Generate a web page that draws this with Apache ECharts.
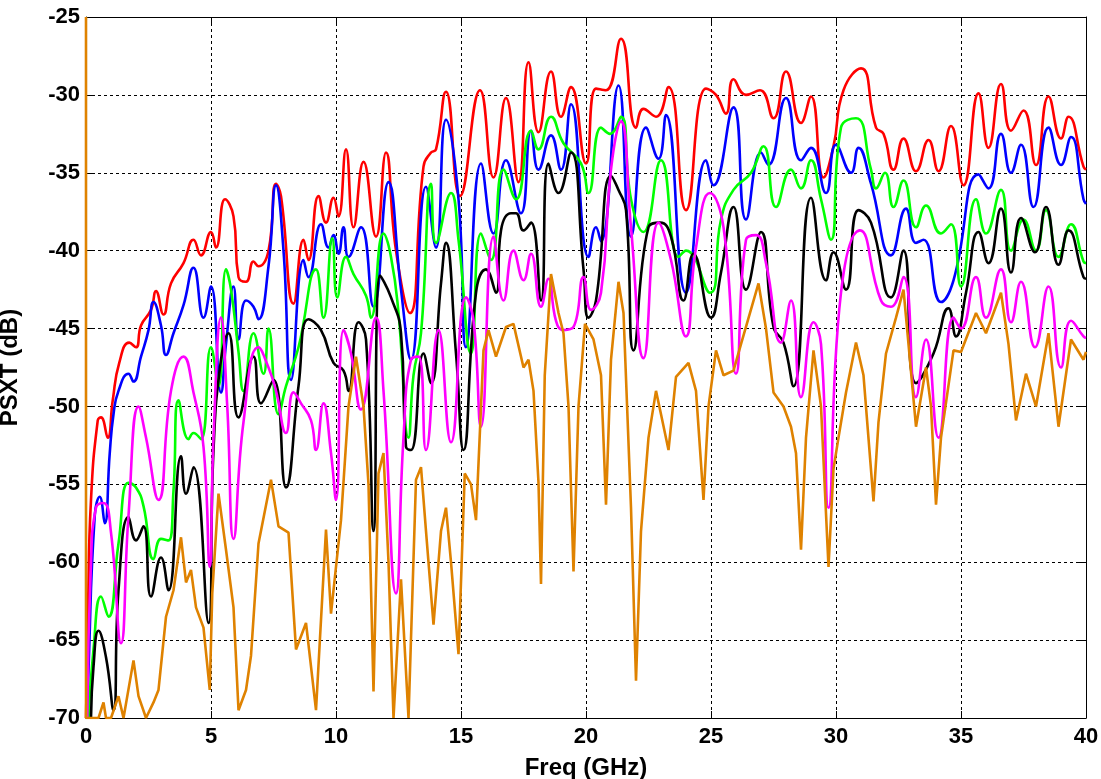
<!DOCTYPE html>
<html>
<head>
<meta charset="utf-8">
<script src="https://cdn.jsdelivr.net/npm/echarts@6/dist/echarts.min.js"></script>
<style>
html,body{margin:0;padding:0;background:#fff;}
#chart{width:1101px;height:779px;}
</style>
</head>
<body>
<div id="chart"></div>
<script>
// ---- Data (Freq in GHz, PSXT in dB) ----
const xTicks = [0, 5, 10, 15, 20, 25, 30, 35, 40];
const yTicks = [-70, -65, -60, -55, -50, -45, -40, -35, -30, -25];

const redF = [0,0.08,0.2,0.47,0.6,0.87,1.07,1.33,1.73,2.0,2.2,2.6,2.8,3.1,3.4,3.9,4.3,4.6,5.0,5.2,5.56,5.9,6.1,6.4,6.7,6.9,7.3,7.6,7.8,8.3,8.7,8.9,9.3,9.6,9.9,10.1,10.4,10.7,11.1,11.6,12.0,12.4,12.96,13.5,13.8,14.0,14.4,14.96,15.76,16.3,16.8,17.3,17.7,18.1,18.6,19.0,19.4,20.0,20.4,20.8,21.4,22.0,22.3,22.8,23.3,24.0,24.8,25.2,25.6,25.9,26.4,26.96,27.5,28.0,28.6,29.0,29.5,29.9,30.3,31.0,31.6,31.9,32.3,32.7,33.2,33.7,34.1,34.6,35.1,35.7,36.1,36.6,37.0,37.5,38.0,38.5,39.0,39.3,39.9,40];
const redV = [-70,-63,-56,-50.9,-50.7,-52,-49.6,-47.2,-45.9,-46.2,-44.8,-43.8,-42.6,-44.1,-42.1,-40.8,-39.3,-40.3,-38.8,-39.8,-36.7,-37.8,-41.7,-42.0,-40.7,-41,-40,-35.7,-36.5,-43.4,-39.3,-40.6,-36.5,-38.2,-36.6,-37.8,-33.5,-38.5,-34.3,-39.1,-33.7,-40,-44,-34.6,-33.7,-33.5,-29.8,-36.5,-29.7,-35.3,-30.2,-35.6,-27.9,-32.4,-28.5,-31.4,-29.5,-34.4,-29.6,-29.7,-26.4,-32.1,-30.9,-31.4,-29.5,-37.4,-29.6,-30,-31.2,-29,-30,-29.7,-31.5,-28.5,-31.8,-30.1,-35.3,-33.3,-29.7,-28.3,-32.1,-32.5,-34.8,-32.8,-34.9,-32.9,-34.9,-32,-35.8,-29.9,-33.4,-29.3,-32.3,-31,-34.5,-30.1,-32.8,-31.4,-34.6,-34.8];

const blueF = [0.05,0.1,0.35,0.55,0.75,0.95,1.1,1.3,1.7,1.9,2.2,2.5,2.7,3.0,3.2,3.5,3.9,4.3,4.7,5.0,5.4,5.6,5.9,6.1,6.4,6.7,6.9,7.3,7.6,7.9,8.2,8.7,8.9,9.4,9.7,9.9,10.1,10.3,10.5,11.0,11.5,12.1,12.6,13.0,13.6,14.0,14.4,14.9,15.2,15.8,16.3,16.8,17.4,17.8,18.1,18.6,19.0,19.4,20.1,20.4,20.6,21.3,21.8,22.4,22.9,23.2,24.0,24.8,25.1,25.9,26.4,27.0,27.3,28.0,28.6,29.0,29.6,30.0,30.6,30.9,31.4,32.2,32.8,33.2,33.5,34.2,34.7,35.7,36.1,36.6,37.0,37.4,37.9,38.5,39.0,39.4,39.9,40];
const blueV = [-70,-66.9,-57,-55.8,-57.5,-53,-50.5,-49,-47.9,-48.4,-46.8,-45.1,-43.3,-44.8,-46.7,-45.3,-43.5,-41.1,-44.3,-42.3,-49.1,-46,-42.3,-45.7,-43.2,-43.6,-44.4,-41,-35.8,-40,-48.3,-40.6,-41.7,-38.3,-39.8,-39,-40.2,-38.5,-40.4,-38.5,-43.6,-35.6,-42.5,-47,-35.9,-39.8,-31.6,-36.7,-46.2,-34.4,-38.9,-34.2,-37.6,-32.3,-34.8,-32.6,-34.8,-30.6,-40.4,-38.5,-39.4,-29.4,-39.1,-32.1,-34.1,-31.3,-42.7,-34.2,-35.8,-30.8,-38,-33.7,-34.5,-30.2,-34.2,-33.4,-36.3,-33.2,-35,-33.4,-35.7,-40.3,-37.3,-39.5,-39.3,-43.3,-41.9,-35.1,-36,-32.5,-35,-33.2,-37.2,-32.1,-34.5,-32.7,-36.7,-37];

const greenF = [0.1,0.3,0.6,0.9,1.3,1.7,2.0,2.3,2.7,3.0,3.3,3.5,3.7,4.1,4.3,4.6,5.0,5.3,5.6,5.8,6.1,6.3,6.7,7.1,7.3,7.7,8.0,8.5,9.2,9.5,9.85,10.05,10.4,10.7,11.2,11.4,11.9,12.2,12.5,12.9,13.1,13.4,13.8,14.0,14.6,14.9,15.4,15.8,16.2,16.7,17.2,17.8,18.1,18.6,19.1,19.8,20.1,20.6,20.96,21.4,21.8,22.3,23.0,23.7,24.0,24.96,25.4,25.9,26.6,27.1,27.6,28.2,28.6,29.0,29.4,29.8,30.2,30.8,31.4,31.6,31.96,32.3,32.7,33.2,33.6,34.2,34.6,35.0,35.6,36.0,36.6,37.0,37.5,38.0,38.4,38.9,39.4,39.9,40];
const greenV = [-70,-65.6,-62.2,-63.5,-58.8,-54.9,-55.2,-56.4,-59.8,-58.5,-58.6,-55.4,-49.6,-52.1,-51.7,-52.1,-46.2,-48.7,-41.2,-42.5,-46.5,-49,-45.3,-47.9,-45,-50.5,-48.7,-46.2,-41.2,-44.3,-39.2,-43,-40.4,-41.5,-42.9,-44.3,-38.9,-40.4,-44,-52,-48,-45.3,-35.7,-39.5,-36.3,-39.3,-46.6,-38.9,-40.6,-34.8,-36.7,-32.3,-33.5,-31.4,-33.1,-34.4,-36.3,-32.1,-32.5,-31.4,-36.7,-38.8,-34.2,-40.4,-40,-42.7,-38,-36.1,-35,-33.3,-37.2,-34.8,-36,-34.2,-36.7,-39.3,-32.1,-31.5,-34.8,-36,-35,-37.2,-35.5,-38.5,-37.1,-38.9,-38.3,-42.3,-36.7,-38.9,-36.1,-40,-38,-40,-37.4,-40.4,-38.3,-40.7,-40.8];

const blackF = [0.2,0.3,0.5,0.8,1.1,1.3,1.7,2.0,2.3,2.6,3.0,3.3,3.8,4.0,4.3,4.9,5.1,5.4,5.7,6.1,6.7,7.0,7.5,8.0,8.5,8.9,9.4,9.9,10.3,10.5,10.9,11.2,11.5,11.76,12.2,12.6,12.8,13.0,13.5,13.8,14.2,14.4,14.8,15.1,15.6,16.0,16.4,16.6,17.0,17.2,17.5,17.8,18.2,18.5,18.9,19.4,19.9,20.1,20.4,21.0,21.3,21.6,21.9,22.5,22.96,23.4,23.9,24.3,25.0,25.4,25.9,26.4,27.0,27.5,27.9,28.3,29.0,29.6,29.9,30.4,30.9,31.4,32.2,32.7,33.2,33.9,34.5,34.8,35.2,35.7,36.1,36.6,37.0,37.4,37.96,38.4,38.9,39.3,39.9,40];
const blackV = [-70,-66.7,-64.4,-66.1,-69.5,-61.8,-57.1,-58.6,-57.7,-62.2,-59.7,-61.8,-53.2,-55.6,-53.9,-63.9,-52.8,-47,-45.3,-50.7,-46.8,-49.8,-48.3,-55.2,-48.7,-44.4,-45.1,-47.2,-47.7,-49,-44.6,-45.7,-58,-41.6,-43,-45.3,-52.6,-52.8,-46.6,-48.5,-42.1,-39.5,-46.6,-52.8,-42.7,-41.2,-42.7,-38.7,-37.6,-37.6,-38.7,-38.2,-43.2,-34.4,-36.3,-33.7,-41.2,-44.3,-43.2,-35.2,-36.1,-37.4,-46.4,-38.5,-38.2,-39.1,-43.2,-40.2,-44.3,-41.4,-37.2,-42.5,-38.8,-44.9,-45.9,-48.7,-36.6,-41.9,-40.1,-42.5,-37.4,-38.2,-43,-40,-48.5,-46.6,-43.7,-45.5,-42.7,-38.8,-40.8,-37.3,-41.4,-37.9,-40.1,-37.2,-40.9,-38.7,-41.7,-41.8];

const magentaF = [0.05,0.2,0.4,0.7,1.0,1.4,1.7,2.1,2.4,2.9,3.4,3.9,4.3,4.7,4.95,5.1,5.4,5.65,5.9,6.3,6.9,7.3,7.6,8.0,8.3,8.6,9.0,9.2,9.5,9.8,10.0,10.3,10.6,11.0,11.6,11.9,12.4,12.7,13.0,13.3,13.6,14.1,14.6,15.2,15.5,15.8,16.3,16.7,17.1,17.5,17.8,18.2,18.5,18.8,19.1,19.5,19.9,20.2,20.6,21.0,21.4,21.8,22.3,22.9,23.4,24.0,24.4,24.96,25.5,26.0,26.4,26.8,27.2,27.8,28.2,28.6,29.1,29.4,29.7,30.2,30.96,31.8,32.2,32.7,33.2,33.6,34.1,34.7,35.0,35.6,36.0,36.6,37.0,37.4,37.96,38.5,39.0,39.4,39.9,40];
const magentaV = [-70,-60,-56.5,-56.2,-58.1,-65.2,-57,-50,-52,-56,-49,-46.8,-49.1,-52.6,-60.3,-52,-44.3,-50,-58.5,-51,-46.2,-47.5,-49,-51.7,-49.1,-49.8,-50.9,-52.8,-49.8,-53,-56,-45.1,-46.6,-50.2,-44.3,-49,-62,-52,-47,-46.8,-52.8,-45.1,-52.3,-43,-44.5,-51.3,-39.1,-43.2,-40,-41.9,-40.2,-43.6,-41.8,-44.5,-45.1,-44.9,-41.7,-43.8,-42.7,-34.8,-31.7,-38.5,-46.9,-38.2,-40.6,-45.5,-39.8,-36.3,-38.5,-47.9,-39.3,-39,-40.8,-45.9,-43.2,-49.4,-44.6,-46,-56.5,-42.7,-38.7,-43.2,-43.6,-41.7,-49.4,-45.7,-52,-44.3,-45,-41.7,-44.3,-41.2,-44.6,-42,-46.2,-42.3,-47.5,-44.5,-45.5,-45.6];

const orangeF = [0,0,0.5,0.7,0.8,1.0,1.3,1.5,1.9,2.1,2.4,2.7,2.9,3.2,3.5,3.8,4.0,4.2,4.4,4.7,4.95,5.05,5.3,5.6,5.9,6.1,6.4,6.6,6.9,7.4,7.7,8.1,8.4,8.8,9.2,9.6,9.8,10.2,10.5,10.8,11.1,11.3,11.5,11.7,11.9,12.1,12.3,12.6,12.9,13.2,13.4,13.6,13.9,14.2,14.4,14.6,14.9,15.15,15.4,15.6,15.9,16.1,16.4,16.8,17.1,17.5,17.7,17.9,18.1,18.2,18.35,18.6,18.9,19.1,19.3,19.5,19.7,19.96,20.3,20.6,20.8,21.0,21.3,21.5,21.8,22.0,22.2,22.5,22.8,23.0,23.3,23.6,24.1,24.4,24.7,24.9,25.2,25.5,25.9,26.2,26.9,27.2,27.5,27.9,28.2,28.4,28.6,28.8,29.1,29.4,29.7,29.9,30.1,30.4,30.8,31.1,31.5,31.7,32.0,32.4,32.7,32.9,33.2,33.6,33.8,34.0,34.2,34.7,35.0,35.6,36.0,36.6,36.9,37.2,37.6,38.0,38.5,38.9,39.4,39.9,40];
const orangeV = [-25,-70,-70,-69,-70,-70,-68.6,-70,-66.3,-68.6,-70,-69,-68.2,-63.5,-61.8,-58.4,-61.3,-60.5,-62.9,-64.2,-68.2,-62,-55.6,-59.2,-62.9,-69.5,-68.2,-66,-58.8,-54.7,-57.7,-58.1,-65.6,-63.9,-69.5,-57.9,-63.3,-57.3,-50,-46.8,-50,-55,-68.3,-54.3,-53,-60,-70,-61.1,-70,-54.7,-53.9,-58,-64,-58,-56.5,-60,-65.9,-54.3,-55,-57.3,-46.4,-45.1,-46.8,-44.9,-44.7,-47.5,-47,-49,-54.9,-61.4,-48,-41.5,-44,-45.3,-50,-60.6,-50,-44.7,-45.7,-48,-56.3,-47,-42,-44,-56.5,-67.6,-58,-52,-49,-50.5,-52.8,-48.1,-47.2,-49,-56,-50,-46.4,-48,-47.7,-46,-42.1,-45,-49.1,-50,-51.3,-53,-59.2,-52,-46.4,-50,-60.3,-54,-52,-49.1,-45.9,-48,-56.1,-51,-46.6,-44.3,-42.5,-46,-51.3,-47.5,-50,-56.3,-52,-46.4,-46.5,-44,-45.3,-42.7,-46,-50.9,-47.9,-50,-45.3,-51.3,-45.7,-47,-46.5];

const seriesDefs = [
  {name: 'red', color: '#ff0000', f: redF, v: redV, smooth: 0.5},
  {name: 'blue', color: '#0000ff', f: blueF, v: blueV, smooth: 0.5},
  {name: 'green', color: '#00ff00', f: greenF, v: greenV, smooth: 0.5},
  {name: 'black', color: '#000000', f: blackF, v: blackV, smooth: 0.5},
  {name: 'magenta', color: '#ff00ff', f: magentaF, v: magentaV, smooth: 0.5},
  {name: 'orange', color: '#df8200', f: orangeF, v: orangeV, smooth: false}
];

const FONT = '"Liberation Sans", Arial, Helvetica, sans-serif';
const chart = echarts.init(document.getElementById('chart'), null, {renderer: 'canvas'});

const axisLine = {show: true, onZero: false, lineStyle: {color: '#000', width: 1}};
const tick = {show: true, inside: true, length: 7, lineStyle: {color: '#000', width: 1}};
const grid = {show: true, lineStyle: {color: '#000', width: 1, type: [3, 3]}};
const lbl = {color: '#000', fontFamily: FONT, fontWeight: 'bold', fontSize: 22};
const nameStyle = {color: '#000', fontFamily: FONT, fontWeight: 'bold', fontSize: 24};

const option = {
  animation: false,
  backgroundColor: '#fff',
  grid: {left: 86, right: 15, top: 17, bottom: 61, containLabel: false, outerBoundsMode: 'none'},
  xAxis: [
    {type: 'value', min: xTicks[0], max: xTicks[xTicks.length - 1], interval: 5,
     name: 'Freq (GHz)', nameLocation: 'middle', nameGap: 38,
     nameTextStyle: nameStyle,
     axisLine: axisLine, axisTick: tick, splitLine: grid,
     axisLabel: Object.assign({margin: 8}, lbl)},
    {type: 'value', position: 'top', min: xTicks[0], max: xTicks[xTicks.length - 1], interval: 5,
     axisLine: axisLine, axisTick: tick, splitLine: {show: false}, axisLabel: {show: false}}
  ],
  yAxis: [
    {type: 'value', min: yTicks[0], max: yTicks[yTicks.length - 1], interval: 5,
     name: 'PSXT (dB)', nameLocation: 'middle', nameGap: 64, nameRotate: 90,
     nameTextStyle: nameStyle,
     axisLine: axisLine, axisTick: tick, splitLine: grid,
     axisLabel: Object.assign({margin: 6}, lbl)},
    {type: 'value', position: 'right', min: yTicks[0], max: yTicks[yTicks.length - 1], interval: 5,
     axisLine: axisLine, axisTick: tick, splitLine: {show: false}, axisLabel: {show: false}}
  ],
  series: seriesDefs.map(s => ({
    name: s.name,
    type: 'line',
    xAxisIndex: 0,
    yAxisIndex: 0,
    showSymbol: false,
    symbol: 'none',
    smooth: s.smooth,
    clip: true,
    data: s.f.map((x, i) => [x, s.v[i]]),
    lineStyle: {color: s.color, width: 2.6},
    itemStyle: {color: s.color}
  }))
};
chart.setOption(option);
</script>
</body>
</html>
